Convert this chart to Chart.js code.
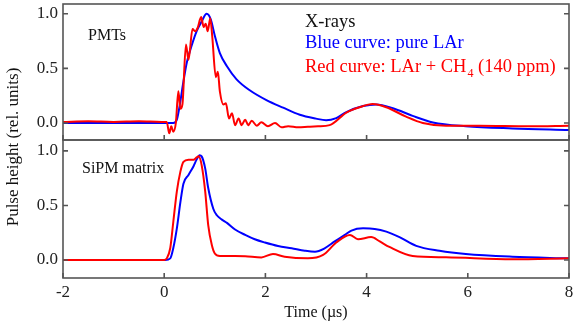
<!DOCTYPE html>
<html>
<head>
<meta charset="utf-8">
<script src="https://cdn.jsdelivr.net/npm/chart.js@4.4.0/dist/chart.umd.min.js"></script>
<style>
  body { margin: 0; background: #fff; }
  #wrap { position: relative; width: 581px; height: 324px; }
  #wrap canvas { position: absolute; left: 0; top: 0; }
</style>
</head>
<body>
<div id="wrap">
  <canvas id="pmtChart" width="581" height="324"></canvas>
  <canvas id="sipmChart" width="581" height="324"></canvas>
</div>
<script>
// Tempo (µs) e altura do pulso (unid. relativas)

// PMTs - LAr puro (azul)
const pmtPureT = [-2, -1, 0, 0.18, 0.25, 0.32, 0.38, 0.45, 0.55, 0.64, 0.74, 0.84, 0.92, 1.0, 1.1, 1.24, 1.43, 1.69,
  2.02, 2.35, 2.68, 3.0, 3.2, 3.4, 3.6, 3.93, 4.19, 4.52, 4.91, 5.31, 5.96, 6.88, 8];
const pmtPureV = [0, 0, 0, 0, 0.03, 0.2, 0.38, 0.56, 0.72, 0.84, 0.93, 1.0, 0.95, 0.8, 0.64, 0.52, 0.4, 0.3,
  0.21, 0.14, 0.075, 0.04, 0.025, 0.045, 0.1, 0.155, 0.17, 0.135, 0.065, 0.005, -0.03, -0.05, -0.064];

// PMTs - LAr + CH4 (vermelho)
const pmtCh4T = [-2, -1.5, -1, -0.5, -0.05, 0.05, 0.1, 0.14, 0.18, 0.23, 0.28, 0.32, 0.36, 0.43, 0.48, 0.56, 0.61,
  0.66, 0.73, 0.78, 0.82, 0.86, 0.91, 0.95, 1.02, 1.06, 1.1, 1.17, 1.22, 1.28, 1.34, 1.4, 1.47, 1.53, 1.6, 1.66,
  1.73, 1.83, 1.92, 2.05, 2.19, 2.32, 2.45, 2.65, 2.84, 3.04, 3.27, 3.6, 3.86, 4.12, 4.39, 4.78, 5.11, 5.57,
  6.23, 7.21, 8];
const pmtCh4V = [0.01, 0.015, 0.01, 0.015, 0.01, 0.01, -0.095, -0.03, -0.08, 0, 0.29, 0.13, 0.17, 0.72, 0.58, 0.86, 0.84,
  0.87, 0.97, 0.88, 0.91, 0.84, 0.96, 0.79, 0.42, 0.47, 0.29, 0.17, 0.18, 0.04, 0.09, -0.02, 0.04, -0.02, 0.03, -0.02,
  0.02, -0.025, 0.006, -0.03, 0, -0.04, -0.03, -0.04, -0.035, -0.03, -0.02, 0.095, 0.144, 0.174, 0.144, 0.058, 0, -0.025,
  -0.025, -0.03, -0.025];

// Matriz SiPM - LAr puro (azul)
const sipmPureT = [-2, -1, 0, 0.02, 0.12, 0.18, 0.25, 0.32, 0.38, 0.48, 0.58, 0.64, 0.7, 0.74, 0.81, 0.87, 0.97, 1.04,
  1.14, 1.24, 1.4, 1.6, 1.79, 1.99, 2.25, 2.52, 2.78, 2.98, 3.17, 3.37, 3.57, 3.7, 3.93, 4.16, 4.39, 4.65, 4.98,
  5.44, 5.96, 6.88, 8];
const sipmPureV = [0, 0, 0, 0, 0.015, 0.11, 0.29, 0.53, 0.7, 0.78, 0.86, 0.92, 0.96, 0.95, 0.84, 0.66, 0.47, 0.41,
  0.37, 0.34, 0.28, 0.23, 0.19, 0.16, 0.128, 0.107, 0.085, 0.076, 0.107, 0.17, 0.23, 0.27, 0.29, 0.285, 0.26, 0.21, 0.13,
  0.085, 0.055, 0.03, 0.015];

// Matriz SiPM - LAr + CH4 (vermelho)
const sipmCh4T = [-2, -1, 0, 0.05, 0.12, 0.18, 0.25, 0.32, 0.38, 0.48, 0.58, 0.64, 0.68, 0.74, 0.81, 0.87, 0.94, 1.0,
  1.1, 1.4, 1.6, 1.92, 2.15, 2.38, 2.84, 3.14, 3.4, 3.67, 3.83, 4.09, 4.26, 4.45, 4.91, 5.57, 6.88, 8];
const sipmCh4V = [0, 0, 0, 0.015, 0.11, 0.35, 0.63, 0.81, 0.9, 0.92, 0.92, 0.94, 0.95, 0.87, 0.63, 0.32, 0.14, 0.06,
  0.037, 0.037, 0.035, 0.024, 0.055, 0.03, 0.015, 0.046, 0.16, 0.23, 0.19, 0.21, 0.17, 0.12, 0.037, 0.025, 0.006, 0.015];

// Marcas dos eixos
const xTicks = [-2, 0, 2, 4, 6, 8];
const yTicks = [0, 0.5, 1];

// Textos
const pmtLabel = "PMTs";
const sipmLabel = "SiPM matrix";
const sourceLabel = "X-rays";
const blueLabel = "Blue curve: pure LAr";
const redLabelA = "Red curve: LAr + CH";
const redLabelSub = "4";
const redLabelB = " (140 ppm)";
const xTitle = "Time (\u00b5s)";
const yTitle = "Pulse height (rel. units)";

const FONT = "'Liberation Serif', 'Times New Roman', serif";
const BLUE = "#0000ff";
const RED = "#ff0000";
const AXIS = "#555";

function toPoints(t, v) {
  return t.map((x, i) => ({ x: x, y: v[i] }));
}

function lineSet(label, t, v, color) {
  return {
    label: label,
    data: toPoints(t, v),
    borderColor: color,
    borderWidth: 2,
    pointRadius: 0,
    cubicInterpolationMode: "monotone",
    fill: false,
  };
}

function scalesFor(yMin, yMax, showX) {
  return {
    x: {
      type: "linear",
      min: -2,
      max: 8,
      display: showX,
      grid: { display: false, drawTicks: false },
      border: { display: false },
      afterBuildTicks: (s) => { s.ticks = xTicks.map((v) => ({ value: v })); },
      afterFit: (s) => {
        if (showX) s.height = 46;
        s.paddingLeft = 0;
        s.paddingRight = 0;
      },
      ticks: {
        autoSkip: false,
        maxRotation: 0,
        padding: 4,
        color: "#222",
        font: { family: FONT, size: 17 },
        callback: (v) => String(v),
      },
    },
    y: {
      type: "linear",
      min: yMin,
      max: yMax,
      grid: { display: false, drawTicks: false },
      border: { display: false },
      afterBuildTicks: (s) => { s.ticks = yTicks.map((v) => ({ value: v })); },
      afterFit: (s) => {
        s.width = 63;
        s.paddingTop = 0;
        s.paddingBottom = 0;
      },
      ticks: {
        padding: 5,
        color: "#222",
        font: { family: FONT, size: 17 },
        callback: (v) => Number(v).toFixed(1),
      },
    },
  };
}

// Moldura com marcas para dentro
const framePlugin = {
  id: "frame",
  afterDraw(chart) {
    const ctx = chart.ctx;
    const a = chart.chartArea;
    const sx = chart.scales.x;
    const sy = chart.scales.y;
    ctx.save();
    ctx.strokeStyle = AXIS;
    ctx.lineWidth = 1.6;
    ctx.strokeRect(a.left, a.top, a.right - a.left, a.bottom - a.top);
    ctx.beginPath();
    xTicks.forEach((v) => {
      const px = sx.getPixelForValue(v);
      ctx.moveTo(px, a.bottom);
      ctx.lineTo(px, a.bottom - 5);
    });
    yTicks.forEach((v) => {
      const py = sy.getPixelForValue(v);
      ctx.moveTo(a.left, py);
      ctx.lineTo(a.left + 5, py);
      ctx.moveTo(a.right, py);
      ctx.lineTo(a.right - 5, py);
    });
    ctx.stroke();
    ctx.restore();
  },
};

const pmtText = {
  id: "pmtText",
  afterDraw(chart) {
    const ctx = chart.ctx;
    ctx.save();
    ctx.textBaseline = "alphabetic";
    ctx.fillStyle = "#111";
    ctx.font = "16px " + FONT;
    ctx.fillText(pmtLabel, 88, 40);
    ctx.font = "18.5px " + FONT;
    ctx.fillText(sourceLabel, 305, 27);
    ctx.fillStyle = BLUE;
    ctx.fillText(blueLabel, 305, 48);
    ctx.fillStyle = RED;
    ctx.fillText(redLabelA, 305, 72);
    let x = 305 + ctx.measureText(redLabelA).width;
    ctx.font = "12px " + FONT;
    ctx.fillText(redLabelSub, x + 1, 77);
    x += ctx.measureText(redLabelSub).width + 1;
    ctx.font = "18.5px " + FONT;
    ctx.fillText(redLabelB, x, 72);
    ctx.restore();
  },
};

const sipmText = {
  id: "sipmText",
  afterDraw(chart) {
    const ctx = chart.ctx;
    const a = chart.chartArea;
    ctx.save();
    ctx.fillStyle = "#111";
    ctx.textBaseline = "alphabetic";
    ctx.font = "16px " + FONT;
    ctx.fillText(sipmLabel, 82, 173);
    ctx.textAlign = "center";
    ctx.fillText(xTitle, (a.left + a.right) / 2, 317);
    ctx.font = "17px " + FONT;
    ctx.translate(14, 147);
    ctx.rotate(-Math.PI / 2);
    ctx.textBaseline = "middle";
    ctx.fillText(yTitle, 0, 0);
    ctx.restore();
  },
};

function baseOptions(yMin, yMax, showX, padding) {
  return {
    responsive: false,
    animation: false,
    layout: { padding: padding },
    plugins: { legend: { display: false }, tooltip: { enabled: false } },
    scales: scalesFor(yMin, yMax, showX),
  };
}

// Painel superior: PMTs
new Chart(document.getElementById("pmtChart"), {
  type: "line",
  data: {
    datasets: [
      lineSet("LAr + CH4", pmtCh4T, pmtCh4V, RED),
      lineSet("pure LAr", pmtPureT, pmtPureV, BLUE),
    ],
  },
  options: baseOptions(-0.156, 1.09, false, { top: 4, bottom: 184, left: 0, right: 12 }),
  plugins: [framePlugin, pmtText],
});

// Painel inferior: matriz SiPM
new Chart(document.getElementById("sipmChart"), {
  type: "line",
  data: {
    datasets: [
      lineSet("LAr + CH4", sipmCh4T, sipmCh4V, RED),
      lineSet("pure LAr", sipmPureT, sipmPureV, BLUE),
    ],
  },
  options: baseOptions(-0.165, 1.1, true, { top: 140, bottom: 0, left: 0, right: 12 }),
  plugins: [framePlugin, sipmText],
});
</script>
</body>
</html>
